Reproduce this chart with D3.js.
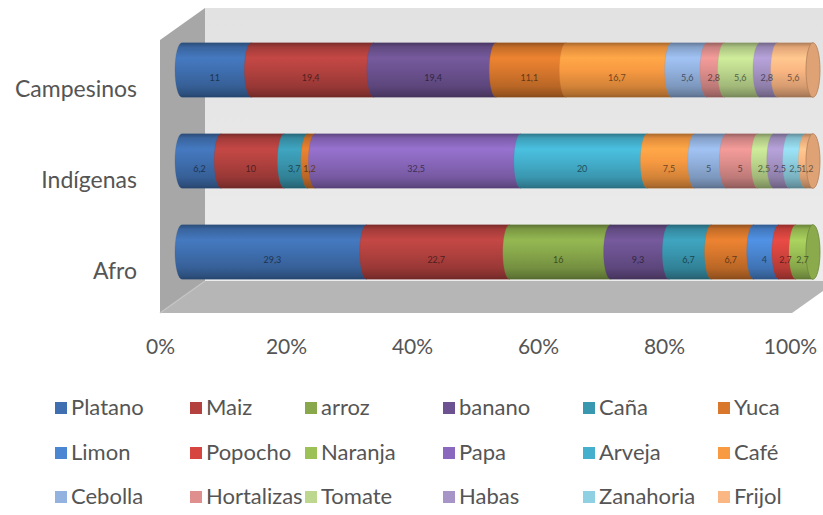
<!DOCTYPE html>
<html>
<head>
<meta charset="utf-8">
<script src="https://cdn.jsdelivr.net/npm/d3@7"></script>
<style>
html,body{margin:0;padding:0;background:#fff;}
svg{display:block;}
text{font-family:Lato,"Open Sans",sans-serif;}
</style>
</head>
<body>
<svg id="chart" width="823" height="515"></svg>
<script>
// ---- data ----
const categories = ["Campesinos", "Indígenas", "Afro"];
const seriesNames = ["Platano","Maiz","arroz","banano","Caña","Yuca",
                     "Limon","Popocho","Naranja","Papa","Arveja","Café",
                     "Cebolla","Hortalizas","Tomate","Habas","Zanahoria","Frijol"];
// values per series, in category order [Campesinos, Indígenas, Afro]
const Platano    = [11,   6.2, 29.3];
const Maiz       = [19.4, 10,  22.7];
const arroz      = [0,    0,   16];
const banano     = [19.4, 0,   9.3];
const Cana       = [0,    3.7, 6.7];
const Yuca       = [11.1, 1.2, 6.7];
const Limon      = [0,    0,   4];
const Popocho    = [0,    0,   2.7];
const Naranja    = [0,    0,   2.7];
const Papa       = [0,    32.5, 0];
const Arveja     = [0,    20,  0];
const Cafe       = [16.7, 7.5, 0];
const Cebolla    = [5.6,  5,   0];
const Hortalizas = [2.8,  5,   0];
const Tomate     = [5.6,  2.5, 0];
const Habas      = [2.8,  2.5, 0];
const Zanahoria  = [0,    2.5, 0];
const Frijol     = [5.6,  1.2, 0];
const seriesValues = [Platano, Maiz, arroz, banano, Cana, Yuca, Limon, Popocho, Naranja,
                      Papa, Arveja, Cafe, Cebolla, Hortalizas, Tomate, Habas, Zanahoria, Frijol];
const seriesColors = ["#3f6fb0","#b3423f","#88a84b","#6c5290","#3a97b0","#d9782d",
                      "#4a86d2","#d6453f","#9cc156","#8a68bd","#44b0cd","#f89a42",
                      "#93b2df","#df8f8d","#bdd88e","#a795c7","#8fd0e2","#fbb783"];
const xTicks = [0, 20, 40, 60, 80, 100];

// ---- build table ----
const table = categories.map((c, i) => {
  const row = {category: c};
  seriesNames.forEach((s, j) => row[s] = seriesValues[j][i]);
  return row;
});
const stacked = d3.stack().keys(seriesNames).offset(d3.stackOffsetExpand)(table);

const svg = d3.select("#chart");
const defs = svg.append("defs");

// ---- scales ----
const xAxisScale = d3.scaleLinear().domain([0, 100]).range([160, 790]);   // front plane
const xBar = d3.scaleLinear().domain([0, 1]).range([182, 813]);           // bars (mid depth)
const yBand = d3.scaleBand().domain(categories).range([15.4, 306.6])
  .paddingInner(0.4).paddingOuter(0.3);

// ---- 3D frame ----
const g3 = svg.append("g");
const bwGrad = defs.append("linearGradient").attr("id","bw").attr("x1",0).attr("y1",0).attr("x2",0).attr("y2",1);
bwGrad.append("stop").attr("offset","0%").attr("stop-color","#e2e2e2");
bwGrad.append("stop").attr("offset","100%").attr("stop-color","#ededed");
g3.append("polygon").attr("points","205,8 835,8 835,281 205,281").attr("fill","url(#bw)");
g3.append("polygon").attr("points","160,40 205,8 205,281 160,313").attr("fill","#a7a7a7");
g3.append("polygon").attr("points","160,313 792,313 837,281 205,281").attr("fill","#b6b6b6");
g3.append("line").attr("x1",160).attr("y1",313).attr("x2",205).attr("y2",281)
  .attr("stroke","#c4c4c4").attr("stroke-width",1.5);

// ---- gradients for cylinders ----
seriesColors.forEach((c, i) => {
  const base = d3.color(c);
  const gr = defs.append("linearGradient").attr("id","cyl"+i)
    .attr("x1",0).attr("y1",0).attr("x2",0).attr("y2",1);
  const stops = [
    [0, base.darker(1.1)], [0.08, base.darker(0.3)], [0.28, base.brighter(0.25)],
    [0.5, base], [0.8, base.darker(0.45)], [0.95, base.darker(1.0)], [1, base.darker(1.4)]
  ];
  stops.forEach(([o, col]) => gr.append("stop").attr("offset", (o*100)+"%").attr("stop-color", col.formatHex()));
});

// ---- bars ----
const rx = 7;
const barsG = svg.append("g");
const fmt = v => String(v).replace(".", ",");
categories.forEach((cat, ci) => {
  const top = yBand(cat), h = yBand.bandwidth(), bot = top + h, ry = h / 2, cy = top + ry;
  const segs = [];
  stacked.forEach((layer, si) => {
    const d = layer[ci];
    const raw = seriesValues[si][ci];
    if (raw > 0) segs.push({si, x0: xBar(d[0]), x1: xBar(d[1]), raw});
  });
  segs.forEach((s, k) => {
    const p = `M${s.x0},${top} L${s.x1},${top} L${s.x1},${bot} L${s.x0},${bot} A${rx},${ry} 0 0 1 ${s.x0},${top} Z`;
    barsG.append("path").attr("d", p).attr("fill", "url(#cyl"+s.si+")")
      .attr("stroke", d3.color(seriesColors[s.si]).darker(0.6).formatHex()).attr("stroke-width", 0.4).attr("stroke-opacity", 0.6);
    if (k === segs.length - 1) {
      const base = d3.color(seriesColors[s.si]);
      barsG.append("ellipse").attr("cx", s.x1).attr("cy", cy).attr("rx", rx).attr("ry", ry)
        .attr("fill", base.darker(0.35).formatHex()).attr("stroke", base.darker(1.0).formatHex()).attr("stroke-width", 0.8);
    }
  });
  segs.forEach(s => {
    barsG.append("text").attr("x", (s.x0 + s.x1) / 2 - 2).attr("y", cy + 9)
      .attr("text-anchor", "middle").attr("dominant-baseline", "middle")
      .attr("font-size", 9).attr("fill", d3.color(seriesColors[s.si]).darker(2.2).formatHex())
      .text(fmt(s.raw));
  });
});

// ---- category labels ----
svg.append("g").selectAll("text").data(categories).join("text")
  .attr("x", 137).attr("y", d => yBand(d) + yBand.bandwidth() / 2 + 21)
  .attr("text-anchor", "end").attr("dominant-baseline", "middle")
  .attr("font-size", 23).attr("fill", "#555").text(d => d);

// ---- x axis ----
const xAxis = d3.axisBottom(xAxisScale).tickValues(xTicks).tickSize(0).tickPadding(0)
  .tickFormat(d => d + "%");
const ax = svg.append("g").attr("transform", "translate(0,339)").call(xAxis);
ax.select(".domain").remove();
ax.selectAll("text").attr("font-size", 21).attr("fill", "#555")
  .attr("font-family", "Lato,'Open Sans',sans-serif");

// ---- legend ----
const colX = [55, 190, 305, 443, 583, 718];
const rowY = [408, 453, 497];
const lg = svg.append("g");
seriesNames.forEach((s, i) => {
  const c = i % 6, r = Math.floor(i / 6);
  const g = lg.append("g").attr("transform", `translate(${colX[c]},${rowY[r]})`);
  g.append("rect").attr("x", 0).attr("y", -6).attr("width", 12).attr("height", 12)
    .attr("fill", seriesColors[i]);
  g.append("text").attr("x", 16).attr("y", 1).attr("dominant-baseline", "middle")
    .attr("font-size", 22).attr("fill", "#555").text(s);
});
</script>
</body>
</html>
